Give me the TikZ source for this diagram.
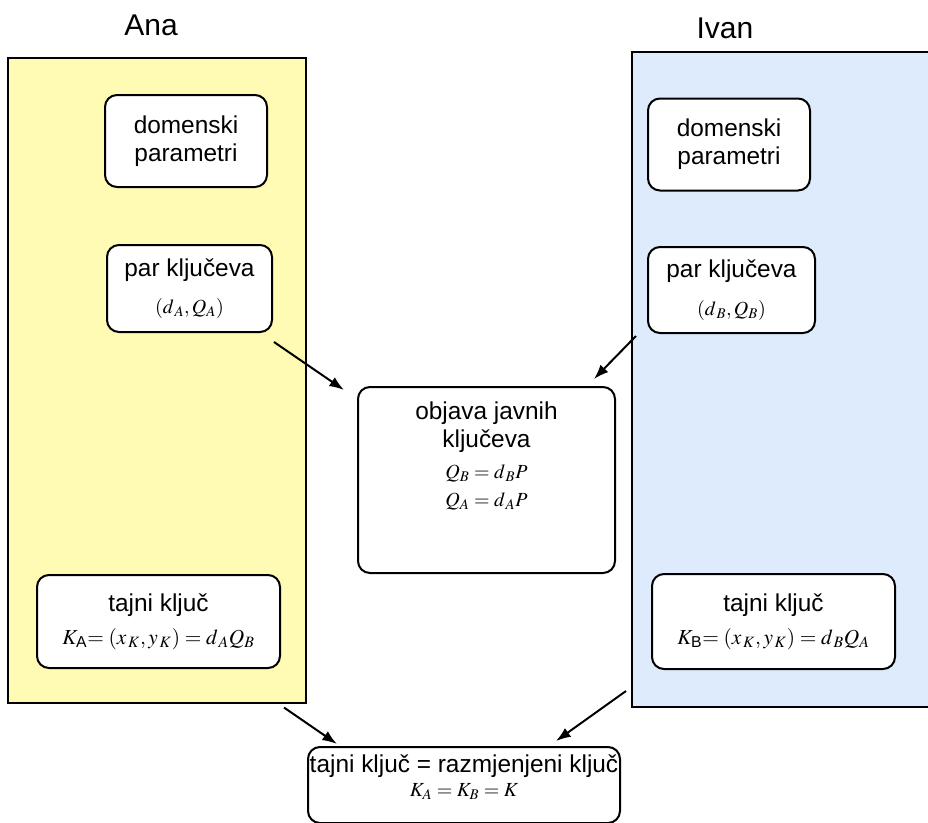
\documentclass[tikz,border=0pt]{standalone}
\usepackage{amsmath}
\usepackage{mathptmx}
\usepackage{fontspec}
\setmainfont{Liberation Sans}
\usetikzlibrary{positioning,arrows.meta,calc}
\definecolor{anayellow}{HTML}{FFFAB4}
\definecolor{ivanblue}{HTML}{DDEBFC}
\newcommand\boxfont{\fontsize{18.3}{21}\selectfont}
\newcommand\mfont{\fontsize{15}{17}\selectfont}

\begin{document}
\begin{tikzpicture}[x=0.75pt,y=-0.75pt,
    panel/.style={draw, line width=1.5pt, inner sep=0pt},
    kbox/.style={draw, fill=white, line width=1.5pt, rounded corners=9pt, inner sep=0pt, align=center, font=\boxfont},
    arr/.style={-{Latex[length=11pt,width=8pt]}, line width=1.5pt}]
    \useasboundingbox (0,0) rectangle (928,822);
    \node[font=\fontsize{22.5}{26}\selectfont] (ana) at (151,25) {Ana};
    \node[font=\fontsize{22.5}{26}\selectfont] (ivan) at (725,28) {Ivan};
    \node[panel, fill=anayellow, minimum width=223.5pt, minimum height=483.75pt] (apanel) at (157,380) {};
    \node[panel, fill=ivanblue, minimum width=231pt, minimum height=491.25pt] (bpanel) at (786,379.5) {};

    \node[kbox, minimum width=121.5pt, minimum height=69pt] (adom) at (186,141) {domenski\\parametri};
    \node[kbox, minimum width=123.75pt, minimum height=65.25pt] (apar) at (189.5,288.5) {par ključeva\\[7pt]{\mfont$(d_{\,A}, Q_A)$}};
    \node[kbox, minimum width=182.25pt, minimum height=69.75pt] (atajni) at (158.5,621.5) {tajni ključ\\[4pt]{\fontsize{16}{18}\selectfont$K_{\text{A}}\!\!=(x_{\,K},y_{\,K})=d_{\,A}Q_B$}};

    \node[kbox, minimum width=121.5pt, minimum height=69pt] (bdom) at (729,144.5) {domenski\\parametri};
    \node[kbox, minimum width=125.25pt, minimum height=64.5pt] (bpar) at (731.5,290) {par ključeva\\[7pt]{\mfont$(d_{\,B}, Q_B)$}};
    \node[kbox, minimum width=182.25pt, minimum height=71.25pt] (btajni) at (773.5,621.5) {tajni ključ\\[4pt]{\fontsize{16}{18}\selectfont$K_{\text{B}}\!\!=(x_{\,K},y_{\,K})=d_{\,B}Q_A$}};

    \node[kbox, minimum width=192.75pt, minimum height=139.5pt] (objava) at (486.5,480) {};
    \node[align=center, font=\boxfont] (objtxt) at (486.5,456) {objava javnih\\ključeva\\[2pt]{\mfont$Q_B=d_{\,B}P$}\\[0pt]{\mfont$Q_A=d_{\,A}P$}};

    \node[kbox, minimum width=234pt, minimum height=57pt] (kljuc) at (464,785) {};
    \node[align=center, font=\boxfont] (kljtxt) at (464,777) {tajni ključ = razmjenjeni ključ\\[-3pt]{\mfont$K_A=K_B=K$}};

    \draw[arr] ([shift={(1,9)}]apar.south east) -- ([shift={(-13,4)}]objava.north west);
    \draw[arr] ([shift={(-11,2)}]bpar.south west) -- ([shift={(-22,-7)}]objava.north east);
    \draw[arr] ([shift={(-23,4)}]apanel.south east) -- ([shift={(30,-2)}]kljuc.north west);
    \draw[arr] ([shift={(-5,-17)}]bpanel.south west) -- ([shift={(-65,-5)}]kljuc.north east);
\end{tikzpicture}
\end{document}
